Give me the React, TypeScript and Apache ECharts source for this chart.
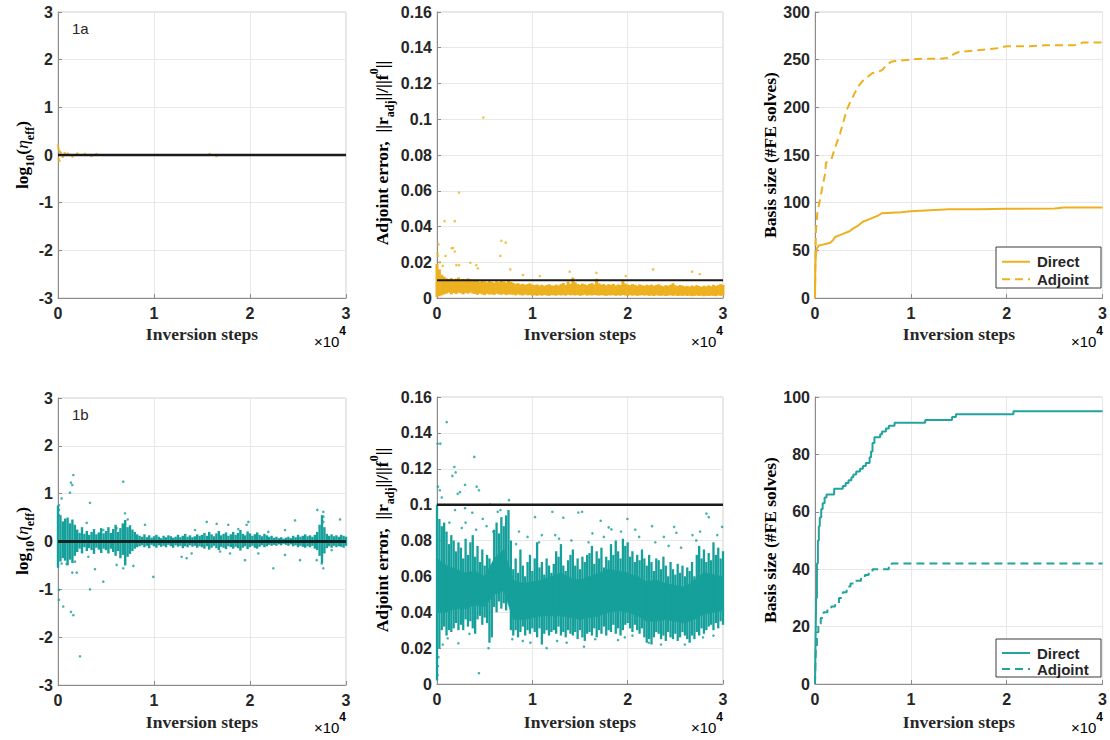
import { useEffect, useRef } from 'react';
import * as echarts from 'echarts';

const ORANGE = '#EDB120';
const TEAL = '#16A09B';
const TEAL_LINE = '#23A39E';
const COL_STEP = 250; // spacing (inversion steps) of the hand-read scatter columns
const CORE_STEP = 1000;

const xTickLabels = ['0', '1', '2', '3'];
const legendNames = ['Direct', 'Adjoint'];

// ---------- 1a : log10(eta_eff) (orange scatter, few points near 0) ----------
const eta1aPoints: number[][] = [
  [0, 0.2], [40, 0.15], [80, -0.08], [120, 0.1], [160, -0.12], [200, 0.06], [300, 0.05],
  [500, -0.04], [700, 0.04], [1000, 0.03], [1500, -0.03], [2000, 0.03], [2800, 0.025],
  [3500, -0.02], [4000, 0.02], [15800, 0.02], [16500, -0.02],
];

// ---------- 1a : adjoint error (orange) ----------
const adj1aHi = [
  0.019, 0.016, 0.013, 0.012,
  0.011, 0.0105, 0.0112, 0.0098, 0.0108, 0.0115, 0.0102, 0.0106, 0.0099, 0.011, 0.0104, 0.0096,
  0.0095, 0.0102, 0.009, 0.0098, 0.0093, 0.0088, 0.0097, 0.0091, 0.0086, 0.0094, 0.0089, 0.0099, 0.0092, 0.0087, 0.0095, 0.009,
  0.0085, 0.0079, 0.0083, 0.0076, 0.008, 0.0074, 0.0078, 0.0082, 0.0075,
  0.0072, 0.0076, 0.007, 0.0074, 0.0068, 0.0073, 0.0077, 0.0071, 0.0069, 0.0075, 0.007, 0.0078, 0.0084, 0.0073, 0.0092, 0.0079,
  0.0115, 0.0088, 0.0078, 0.0074, 0.0081, 0.0077, 0.0072, 0.0079, 0.0083, 0.0076, 0.0108, 0.0082, 0.0075, 0.0078, 0.0071, 0.0077,
  0.0074, 0.0079, 0.007, 0.0076, 0.0073, 0.0098, 0.0081, 0.0075, 0.0072, 0.0078, 0.0074, 0.0069, 0.0076, 0.0072, 0.0068, 0.0074,
  0.0071, 0.0075, 0.0068, 0.0073, 0.0077, 0.007, 0.0066, 0.0072, 0.0069, 0.0074, 0.0083, 0.0071, 0.0067, 0.0073, 0.0069, 0.0065,
  0.0068, 0.0064, 0.007, 0.0066, 0.0072, 0.0067, 0.0063, 0.0069, 0.0065, 0.0071, 0.0066, 0.0074, 0.0068, 0.0072, 0.0078, 0.0073,
];
const adj1aLo = [
  0.0005, 0.001, 0.0015, 0.002,
  0.0025, 0.003, 0.002, 0.0028, 0.0022, 0.003, 0.0026, 0.002, 0.0028, 0.0024, 0.003, 0.0025,
  0.0022, 0.0018, 0.0025, 0.002, 0.0016, 0.0023, 0.0019, 0.0021, 0.0017, 0.0024, 0.002, 0.0018, 0.0022, 0.0016, 0.002, 0.0019,
  0.0018, 0.0015, 0.002, 0.0016, 0.0014, 0.0019, 0.0015, 0.0017, 0.0013,
  0.0015, 0.0012, 0.0016, 0.0013, 0.0017, 0.0014, 0.0012, 0.0016, 0.0015, 0.0013, 0.0017, 0.0014, 0.0016, 0.0013, 0.0018, 0.0015,
  0.0016, 0.0014, 0.0017, 0.0012, 0.0015, 0.0018, 0.0013, 0.0016, 0.0014, 0.0017, 0.0015, 0.0013, 0.0016, 0.0014, 0.0012, 0.0015,
  0.0014, 0.0016, 0.0012, 0.0015, 0.0013, 0.0017, 0.0014, 0.0012, 0.0016, 0.0013, 0.0015, 0.0012, 0.0014, 0.0016, 0.0013, 0.0015,
  0.0012, 0.0014, 0.0011, 0.0015, 0.0013, 0.0012, 0.0014, 0.0011, 0.0013, 0.0015, 0.0012, 0.0014, 0.0011, 0.0013, 0.0012, 0.0014,
  0.0011, 0.0013, 0.001, 0.0012, 0.0014, 0.0011, 0.0013, 0.001, 0.0012, 0.0011, 0.0013, 0.0012, 0.001, 0.0014, 0.0012, 0.0015,
];
const adj1aPoints: number[][] = [
  [4860, 0.101], [2310, 0.059], [800, 0.043], [1860, 0.043], [6750, 0.032], [7210, 0.031], [6650, 0.0235],
  [1680, 0.028], [1860, 0.026], [100, 0.0235], [900, 0.0235], [2030, 0.0184], [2310, 0.0184], [3500, 0.0197],
  [4120, 0.0184], [4300, 0.0166], [7690, 0.016], [9020, 0.0129], [10780, 0.0123], [13920, 0.0147],
  [16720, 0.0141], [22670, 0.016], [26760, 0.0147], [27560, 0.0134], [19800, 0.0123], [1540, 0.0278],
  [300, 0.02], [600, 0.018], [50, 0.025], [150, 0.03],
];
const adj1aThreshold = 0.01;

// ---------- 1a : basis size ----------
const basis1aDirect: number[][] = [
  [0, 0], [30, 30], [80, 45], [200, 52], [400, 55], [800, 56], [1200, 57], [1600, 58], [1900, 61], [2100, 64],
  [2600, 66], [3100, 68], [3600, 70], [4000, 73], [4500, 76], [5000, 80], [5500, 82], [6000, 84], [6500, 86],
  [7000, 89], [8000, 89.5], [9000, 90], [10000, 91], [12000, 92], [14000, 93], [17000, 93], [20000, 93.5],
  [25000, 94], [26000, 95], [30000, 95],
];
const basis1aAdjoint: number[][] = [
  [0, 0], [40, 40], [100, 70], [240, 89], [520, 103], [800, 118], [1050, 130], [1150, 142], [1700, 145],
  [2000, 155], [2600, 172], [3000, 186], [3300, 197], [3700, 206], [4000, 212], [4500, 222], [5000, 228],
  [5500, 232], [6000, 236], [6500, 237], [7000, 239], [7500, 245], [8000, 248], [9000, 249], [10000, 250],
  [11000, 251], [13000, 251], [14000, 252], [14500, 256], [15000, 258], [17000, 260], [19000, 262],
  [20000, 264], [22000, 264], [24000, 265], [27000, 265], [28000, 268], [30000, 268],
];

// ---------- 1b : log10(eta_eff) (teal) ----------
const eta1bHi = [
  0.75, 0.55, 0.42, 0.48,
  0.5, 0.38, 0.46, 0.35,
  0.25, 0.18, 0.3, 0.16, 0.22, 0.14, 0.2, 0.26, 0.15, 0.19, 0.28, 0.17,
  0.22, 0.3, 0.18, 0.26, 0.35, 0.2, 0.28, 0.38, 0.45, 0.3, 0.34, 0.25, 0.2, 0.15,
  0.12, 0.1, 0.15, 0.09, 0.13, 0.08, 0.11, 0.14, 0.1, 0.07, 0.12, 0.09, 0.13, 0.11, 0.08, 0.1, 0.14, 0.09, 0.12, 0.16, 0.1, 0.13, 0.09, 0.11, 0.15, 0.12,
  0.14, 0.18, 0.12, 0.2, 0.15, 0.11, 0.17, 0.22, 0.13, 0.16, 0.19, 0.12, 0.15, 0.2, 0.14, 0.18, 0.24, 0.16, 0.13, 0.21, 0.17, 0.12, 0.15, 0.19, 0.14, 0.11, 0.16, 0.13, 0.1, 0.12,
  0.08, 0.1, 0.07, 0.09, 0.06, 0.08, 0.1, 0.07, 0.12, 0.09, 0.14, 0.1, 0.12, 0.15, 0.11, 0.13, 0.1, 0.14,
  0.2, 0.35, 0.55, 0.3, 0.16, 0.12, 0.15, 0.11, 0.13, 0.1, 0.14, 0.12, 0.1,
];
const eta1bLo = [
  -0.55, -0.42, -0.35, -0.4,
  -0.5, -0.38, -0.45, -0.3,
  -0.22, -0.15, -0.25, -0.12, -0.2, -0.14, -0.18, -0.26, -0.13, -0.17, -0.24, -0.15,
  -0.18, -0.25, -0.15, -0.22, -0.3, -0.2, -0.35, -0.28, -0.5, -0.32, -0.26, -0.2, -0.15, -0.12,
  -0.1, -0.08, -0.12, -0.09, -0.14, -0.07, -0.1, -0.13, -0.08, -0.11, -0.09, -0.12, -0.07, -0.1, -0.13, -0.08, -0.11, -0.09, -0.14, -0.1, -0.12, -0.08, -0.11, -0.09, -0.13, -0.1,
  -0.12, -0.15, -0.1, -0.17, -0.13, -0.09, -0.14, -0.18, -0.11, -0.13, -0.16, -0.1, -0.12, -0.15, -0.11, -0.14, -0.19, -0.13, -0.1, -0.16, -0.12, -0.09, -0.13, -0.15, -0.11, -0.08, -0.12, -0.1, -0.07, -0.09,
  -0.07, -0.09, -0.06, -0.08, -0.05, -0.07, -0.09, -0.06, -0.1, -0.08, -0.12, -0.09, -0.11, -0.13, -0.1, -0.12, -0.09, -0.15,
  -0.18, -0.3, -0.45, -0.25, -0.14, -0.1, -0.13, -0.09, -0.12, -0.1, -0.11, -0.13, -0.09,
];
const eta1bPoints: number[][] = [
  [1600, 1.39], [1350, 1.23], [1490, 1.18], [1250, 1.02], [6800, 1.25], [380, 0.9], [3330, 0.81], [100, 0.76],
  [100, 0.66], [100, 0.55], [6980, 0.59], [7260, 0.46], [2990, 0.39], [9060, 0.35], [4720, 0.24], [6110, 0.28],
  [380, -0.46], [900, -0.47], [1770, -0.42], [3160, -0.32], [3850, -0.58], [4720, -0.84], [1490, -0.65],
  [6980, -0.39], [6800, -0.56], [6110, -0.49], [9930, -0.74], [3330, -1.0], [1950, -0.65], [100, -1.01],
  [100, -1.22], [550, -1.36], [1350, -1.47], [1600, -1.54], [7850, -0.51], [12880, -0.32], [13400, -0.35],
  [13920, -0.25], [14270, 0.24], [2290, -2.4], [27010, 0.66], [27640, 0.62], [27640, 0.52], [27640, 0.41],
  [29380, 0.46], [24690, 0.44], [19830, 0.41], [19650, 0.35], [17740, 0.35], [16530, 0.37], [15490, 0.41],
  [18780, 0.26], [21910, 0.2], [23650, 0.24], [19480, -0.39], [22430, -0.56], [20870, -0.25], [23650, -0.28],
  [27640, -0.56], [27470, -0.46], [26950, -0.39], [17920, -0.25], [16880, -0.21], [25210, -0.39], [28510, -0.18],
];

// ---------- 1b : adjoint error (teal) ----------
const adj1bHi = [
  0.1, 0.092, 0.088, 0.09,
  0.085, 0.078, 0.083,
  0.08, 0.074, 0.079,
  0.076, 0.07, 0.081, 0.072,
  0.079, 0.083, 0.071, 0.077,
  0.068, 0.075, 0.066, 0.072,
  0.07, 0.064,
  0.086, 0.09, 0.084, 0.093,
  0.088, 0.094, 0.097,
  0.08,
  0.064, 0.07, 0.062, 0.075, 0.066, 0.06, 0.068, 0.072, 0.063,
  0.07, 0.079, 0.065, 0.068, 0.061, 0.07, 0.066, 0.062,
  0.067, 0.074, 0.071, 0.078, 0.066, 0.063, 0.069, 0.072,
  0.075, 0.066, 0.07, 0.064, 0.071, 0.068, 0.072,
  0.073, 0.077, 0.067, 0.074, 0.07, 0.076, 0.065, 0.071,
  0.069, 0.078, 0.072, 0.08, 0.074, 0.07, 0.081, 0.077,
  0.079, 0.071, 0.074, 0.068, 0.072, 0.069, 0.075,
  0.07, 0.066, 0.072, 0.068, 0.063, 0.07,
  0.069, 0.064, 0.071, 0.066, 0.06, 0.068,
  0.064, 0.061, 0.067, 0.062, 0.066, 0.06, 0.065,
  0.063, 0.068, 0.06,
  0.072, 0.077, 0.07, 0.075, 0.068, 0.073,
  0.069, 0.079, 0.072, 0.076, 0.07, 0.074,
];
const adj1bLo = [
  0.002, 0.02, 0.03, 0.032,
  0.027, 0.03, 0.029,
  0.031, 0.034, 0.03,
  0.033, 0.03, 0.036, 0.032,
  0.035, 0.031, 0.028, 0.036,
  0.038, 0.033, 0.037, 0.034,
  0.023, 0.026,
  0.043, 0.04, 0.046, 0.042,
  0.045, 0.041, 0.048,
  0.03,
  0.027, 0.03, 0.026, 0.029, 0.032, 0.027, 0.03, 0.028, 0.031,
  0.029, 0.026, 0.031, 0.022, 0.028, 0.03, 0.027, 0.029,
  0.03, 0.028, 0.032, 0.027, 0.029, 0.026, 0.03, 0.028,
  0.027, 0.029, 0.025, 0.03, 0.026, 0.024, 0.028,
  0.029, 0.027, 0.031, 0.026, 0.03, 0.028, 0.032, 0.027,
  0.03, 0.029, 0.033, 0.028, 0.031, 0.027, 0.03, 0.033,
  0.034, 0.031, 0.029, 0.033, 0.03, 0.028, 0.031,
  0.026, 0.023, 0.025, 0.022, 0.026, 0.029,
  0.028, 0.025, 0.027, 0.024, 0.029, 0.026,
  0.025, 0.028, 0.024, 0.026, 0.029, 0.027, 0.025,
  0.023, 0.027, 0.025,
  0.029, 0.027, 0.031, 0.028, 0.03, 0.032,
  0.033, 0.03, 0.034, 0.031, 0.035, 0.033,
];
const adj1bCoreHi = [
  0.07, 0.066, 0.064, 0.062, 0.063, 0.06, 0.07, 0.075, 0.058, 0.056, 0.057, 0.058, 0.06, 0.062, 0.059, 0.058,
  0.06, 0.062, 0.064, 0.063, 0.062, 0.06, 0.057, 0.058, 0.056, 0.055, 0.054, 0.058, 0.062, 0.061, 0.06,
];
const adj1bCoreLo = [
  0.04, 0.04, 0.042, 0.042, 0.044, 0.043, 0.05, 0.052, 0.036, 0.036, 0.037, 0.038, 0.038, 0.038, 0.037, 0.036,
  0.037, 0.038, 0.04, 0.041, 0.04, 0.038, 0.035, 0.035, 0.036, 0.035, 0.034, 0.036, 0.039, 0.04, 0.041,
];
const adj1bPoints: number[][] = [
  [1018, 0.146], [70, 0.134], [350, 0.134], [3915, 0.1266], [1820, 0.121], [1960, 0.118], [1610, 0.116],
  [2940, 0.111], [4160, 0.11], [4400, 0.108], [2410, 0.107], [2170, 0.106], [300, 0.108], [500, 0.104],
  [100, 0.11], [7550, 0.1025], [5560, 0.1], [4400, 0.006], [100, 0.01], [60, 0.005], [150, 0.015],
  [1120, 0.0255], [2240, 0.0227], [10280, 0.093], [12100, 0.096], [13250, 0.0927], [14830, 0.0956],
  [6370, 0.096], [6650, 0.097], [3700, 0.0955], [2940, 0.098], [1890, 0.097], [19970, 0.092], [22560, 0.088],
  [24870, 0.0876], [25110, 0.0843], [28260, 0.095], [28510, 0.093], [17170, 0.091], [18010, 0.0873],
  [18290, 0.0862], [15220, 0.096], [29900, 0.0876], [15420, 0.0208], [22210, 0.023], [18990, 0.0245],
  [8600, 0.085], [9500, 0.082], [11000, 0.083], [16300, 0.084], [20800, 0.086], [23800, 0.082], [26800, 0.083],
  [27600, 0.085], [12800, 0.081], [3000, 0.09], [4800, 0.092], [5200, 0.088], [9000, 0.024], [11500, 0.02],
  [13600, 0.023], [20500, 0.027], [26000, 0.022], [29000, 0.027], [7900, 0.025], [600, 0.022], [3400, 0.028],
  [8300, 0.078], [10700, 0.079], [12400, 0.083], [14100, 0.08], [15900, 0.079], [17500, 0.082], [19300, 0.085],
  [21200, 0.082], [22900, 0.079], [24300, 0.077], [25600, 0.076], [27200, 0.08], [29400, 0.083], [1300, 0.09],
  [2600, 0.087], [4100, 0.086], [5900, 0.085], [9800, 0.023], [12600, 0.024], [16600, 0.025], [19700, 0.026],
  [23500, 0.022], [27900, 0.026], [5400, 0.02],
];
const adj1bThreshold = 0.1;

// ---------- 1b : basis size ----------
const basis1bDirect: number[][] = [
  [0, 0], [60, 15], [120, 30], [200, 42], [300, 50], [400, 55], [500, 58], [650, 61], [800, 63], [1000, 65],
  [1200, 66], [2000, 68], [2700, 68], [2900, 69], [3200, 70], [3500, 71], [3800, 72], [4000, 73], [4300, 74],
  [4700, 75], [5000, 76], [5300, 77], [5600, 77], [5700, 79], [5850, 81], [6000, 84], [6200, 86], [6800, 87],
  [7000, 88], [7400, 89], [7700, 90], [8100, 90], [8300, 91], [11500, 92], [14300, 93], [14700, 94],
  [20700, 95], [30000, 95],
];
const basis1bAdjoint: number[][] = [
  [0, 0], [50, 8], [100, 13], [200, 18], [350, 21], [600, 23], [900, 25], [1300, 26], [1700, 27], [2100, 28],
  [2500, 30], [2900, 32], [3300, 34], [3700, 35], [4200, 36], [4800, 37], [5200, 38], [5600, 39], [6000, 40],
  [7400, 40], [7700, 41], [8000, 42], [30000, 42],
];

// ---------- layout ----------
const grids = [
  { left: 58, top: 12, width: 288, height: 286 },
  { left: 437, top: 12, width: 286, height: 286 },
  { left: 815, top: 12, width: 288, height: 286 },
  { left: 58, top: 398, width: 288, height: 287 },
  { left: 437, top: 397, width: 286, height: 287 },
  { left: 815, top: 397, width: 288, height: 287 },
];
const yRanges = [
  { min: -3, max: 3, interval: 1 },
  { min: 0, max: 0.16, interval: 0.02 },
  { min: 0, max: 300, interval: 50 },
  { min: -3, max: 3, interval: 1 },
  { min: 0, max: 0.16, interval: 0.02 },
  { min: 0, max: 100, interval: 20 },
];

const SANS = 'Liberation Sans';
const SERIF = 'Liberation Serif';
const TXT = '#262626';

function columns(lo: number[], hi: number[], step: number) {
  const n = Math.min(lo.length, hi.length);
  const out: number[][] = [];
  for (let i = 0; i < n; i++) out.push([i * step, lo[i], hi[i]]);
  return out;
}

function colSeries(idx: number, lo: number[], hi: number[], color: string, width: number) {
  return {
    type: 'custom',
    xAxisIndex: idx,
    yAxisIndex: idx,
    silent: true,
    data: columns(lo, hi, COL_STEP),
    encode: { x: 0, y: [1, 2] },
    renderItem: (_p: any, api: any) => {
      const a = api.coord([api.value(0), api.value(1)]);
      const b = api.coord([api.value(0), api.value(2)]);
      return {
        type: 'line',
        shape: { x1: a[0], y1: a[1], x2: b[0], y2: b[1] },
        style: { stroke: color, lineWidth: width },
      };
    },
  };
}

function bandSeries(idx: number, lo: number[], hi: number[], step: number, color: string) {
  const cols = columns(lo, hi, step);
  const segs: number[][] = [];
  for (let i = 0; i + 1 < cols.length; i++) segs.push([...cols[i], ...cols[i + 1]]);
  return {
    type: 'custom',
    xAxisIndex: idx,
    yAxisIndex: idx,
    silent: true,
    data: segs,
    encode: { x: [0, 3], y: [1, 2, 4, 5] },
    renderItem: (_p: any, api: any) => {
      const p1 = api.coord([api.value(0), api.value(1)]);
      const p2 = api.coord([api.value(3), api.value(4)]);
      const p3 = api.coord([api.value(3), api.value(5)]);
      const p4 = api.coord([api.value(0), api.value(2)]);
      return {
        type: 'polygon',
        shape: { points: [p1, p2, p3, p4] },
        style: { fill: color, stroke: color, lineWidth: 0.6 },
      };
    },
  };
}

function scatterSeries(idx: number, pts: number[][], color: string) {
  return {
    type: 'scatter',
    xAxisIndex: idx,
    yAxisIndex: idx,
    silent: true,
    data: pts,
    symbol: 'circle',
    symbolSize: 2.6,
    itemStyle: { color },
  };
}

function hLine(idx: number, v: number, color: string, width: number) {
  return {
    type: 'line',
    xAxisIndex: idx,
    yAxisIndex: idx,
    silent: true,
    symbol: 'none',
    data: [[0, v], [30000, v]],
    lineStyle: { color, width },
    z: 5,
  };
}

function basisLine(idx: number, pts: number[][], color: string, dashed: boolean, step: boolean) {
  return {
    type: 'line',
    xAxisIndex: idx,
    yAxisIndex: idx,
    silent: true,
    symbol: 'none',
    step: step ? 'end' : false,
    data: pts,
    lineStyle: { color, width: 2, type: dashed ? [8, 5] : 'solid' },
  };
}

const subRich = {
  n: { fontFamily: SERIF, fontWeight: 'bold', fontSize: 17.5, lineHeight: 28, verticalAlign: 'middle', color: TXT },
  i: { fontFamily: SERIF, fontStyle: 'italic', fontSize: 17.5, lineHeight: 28, verticalAlign: 'middle', color: TXT },
  sub: { fontFamily: SERIF, fontWeight: 'bold', fontSize: 12, lineHeight: 12, verticalAlign: 'bottom', color: TXT },
  sup: { fontFamily: SERIF, fontWeight: 'bold', fontSize: 12, lineHeight: 12, verticalAlign: 'top', color: TXT },
};

function yLabel(x: number, y: number, text: string) {
  return {
    type: 'text',
    x,
    y,
    rotation: Math.PI / 2,
    style: { text, rich: subRich, align: 'center', verticalAlign: 'middle' },
  };
}

function plainText(x: number, y: number, text: string, font: string, align = 'center') {
  return {
    type: 'text',
    x,
    y,
    z: 101,
    style: { text, font, fill: TXT, align, verticalAlign: 'middle' },
  };
}

function expText(x: number, y: number) {
  return {
    type: 'text',
    x,
    y,
    style: {
      text: '{a|×10}{s|4}',
      align: 'right',
      verticalAlign: 'middle',
      rich: {
        a: { fontFamily: SANS, fontSize: 15, lineHeight: 24, verticalAlign: 'bottom', color: TXT },
        s: { fontFamily: SANS, fontWeight: 'bold', fontSize: 12, lineHeight: 12, verticalAlign: 'top', color: TXT },
      },
    },
  };
}

function legendBox(x: number, y: number, h: number, color: string) {
  const rowGap = h / 2 - 3;
  const r1 = y + 4 + rowGap / 2 + 2;
  const r2 = r1 + rowGap;
  return [
    {
      type: 'rect', z: 100,
      shape: { x, y, width: 105, height: h },
      style: { fill: '#ffffff', stroke: '#3a3a3a', lineWidth: 1 },
    },
    {
      type: 'line', z: 101,
      shape: { x1: x + 6, y1: r1, x2: x + 34, y2: r1 },
      style: { stroke: color, lineWidth: 2 },
    },
    {
      type: 'line', z: 101,
      shape: { x1: x + 6, y1: r2, x2: x + 34, y2: r2 },
      style: { stroke: color, lineWidth: 2, lineDash: [8, 5] },
    },
    plainText(x + 41, r1, legendNames[0], `bold 15px ${SANS}`, 'left'),
    plainText(x + 41, r2, legendNames[1], `bold 15px ${SANS}`, 'left'),
  ];
}

export default function App() {
  const ref = useRef<HTMLDivElement>(null);
  useEffect(() => {
    if (!ref.current) return;
    const chart = echarts.init(ref.current, undefined, { renderer: 'svg' });

    const xAxes = grids.map((_, i) => ({
      type: 'value',
      gridIndex: i,
      min: 0,
      max: 30000,
      interval: 10000,
      axisLine: { show: true, onZero: false, lineStyle: { color: '#8c8c8c' } },
      axisTick: { show: true, inside: true, length: 4, lineStyle: { color: '#8c8c8c' } },
      axisLabel: {
        formatter: (v: number) => xTickLabels[Math.round(v / 10000)] ?? '',
        fontFamily: SANS, fontWeight: 'bold', fontSize: 16, color: TXT, margin: 7,
      },
      splitLine: { show: true, lineStyle: { color: '#e8e8e8' } },
    }));
    const yAxes = grids.map((_, i) => ({
      type: 'value',
      gridIndex: i,
      min: yRanges[i].min,
      max: yRanges[i].max,
      interval: yRanges[i].interval,
      axisLine: { show: true, onZero: false, lineStyle: { color: '#8c8c8c' } },
      axisTick: { show: true, inside: true, length: 4, lineStyle: { color: '#8c8c8c' } },
      axisLabel: { fontFamily: SANS, fontWeight: 'bold', fontSize: 16, color: TXT, margin: 5 },
      splitLine: { show: true, lineStyle: { color: '#e8e8e8' } },
    }));

    const option: any = {
      animation: false,
      backgroundColor: '#ffffff',
      grid: grids.map((g) => ({ ...g, show: true, borderColor: '#cfcfcf', borderWidth: 1, backgroundColor: '#fff' })),
      xAxis: xAxes,
      yAxis: yAxes,
      series: [
        // 1a
        scatterSeries(0, eta1aPoints, ORANGE),
        hLine(0, 0, '#1a1a1a', 2.5),
        colSeries(1, adj1aLo, adj1aHi, ORANGE, 3),
        scatterSeries(1, adj1aPoints, ORANGE),
        hLine(1, adj1aThreshold, '#1a1a1a', 2),
        basisLine(2, basis1aDirect, ORANGE, false, false),
        basisLine(2, basis1aAdjoint, ORANGE, true, false),
        // 1b
        colSeries(3, eta1bLo, eta1bHi, TEAL, 2.4),
        scatterSeries(3, eta1bPoints, TEAL),
        hLine(3, 0, '#0d2624', 3),
        bandSeries(4, adj1bCoreLo, adj1bCoreHi, CORE_STEP, TEAL),
        colSeries(4, adj1bLo, adj1bHi, TEAL, 2.3),
        scatterSeries(4, adj1bPoints, TEAL),
        hLine(4, adj1bThreshold, '#1a1a1a', 2.5),
        basisLine(5, basis1bDirect, TEAL_LINE, false, true),
        basisLine(5, basis1bAdjoint, TEAL_LINE, true, true),
      ],
      graphic: [
        plainText(72, 28, '1a', `15px ${SANS}`, 'left'),
        plainText(72, 414, '1b', `15px ${SANS}`, 'left'),
        yLabel(22, 155, '{n|log}{sub|10}{n|(}{i|η}{sub|eff}{n|)}'),
        yLabel(382, 153, '{n|Adjoint error,  ||}{n|r}{sub|adj}{n|||/||f}{sup|0}{n|||}'),
        yLabel(770, 155, '{n|Basis size (#FE solves)}'),
        yLabel(22, 541, '{n|log}{sub|10}{n|(}{i|η}{sub|eff}{n|)}'),
        yLabel(382, 540, '{n|Adjoint error,  ||}{n|r}{sub|adj}{n|||/||f}{sup|0}{n|||}'),
        yLabel(770, 540, '{n|Basis size (#FE solves)}'),
        plainText(202, 334, 'Inversion steps', `bold 17.5px ${SERIF}`),
        plainText(580, 334, 'Inversion steps', `bold 17.5px ${SERIF}`),
        plainText(959, 334, 'Inversion steps', `bold 17.5px ${SERIF}`),
        plainText(202, 722, 'Inversion steps', `bold 17.5px ${SERIF}`),
        plainText(580, 722, 'Inversion steps', `bold 17.5px ${SERIF}`),
        plainText(959, 722, 'Inversion steps', `bold 17.5px ${SERIF}`),
        expText(346, 337),
        expText(723, 337),
        expText(1103, 337),
        expText(346, 723),
        expText(723, 723),
        expText(1103, 723),
        ...legendBox(996, 247, 41, ORANGE),
        ...legendBox(996, 639, 38, TEAL_LINE),
      ],
    };
    chart.setOption(option);
    return () => chart.dispose();
  }, []);

  return (
    <div
      ref={ref}
      style={{ position: 'fixed', left: 0, top: 0, width: 1110, height: 740, background: '#fff' }}
    />
  );
}
